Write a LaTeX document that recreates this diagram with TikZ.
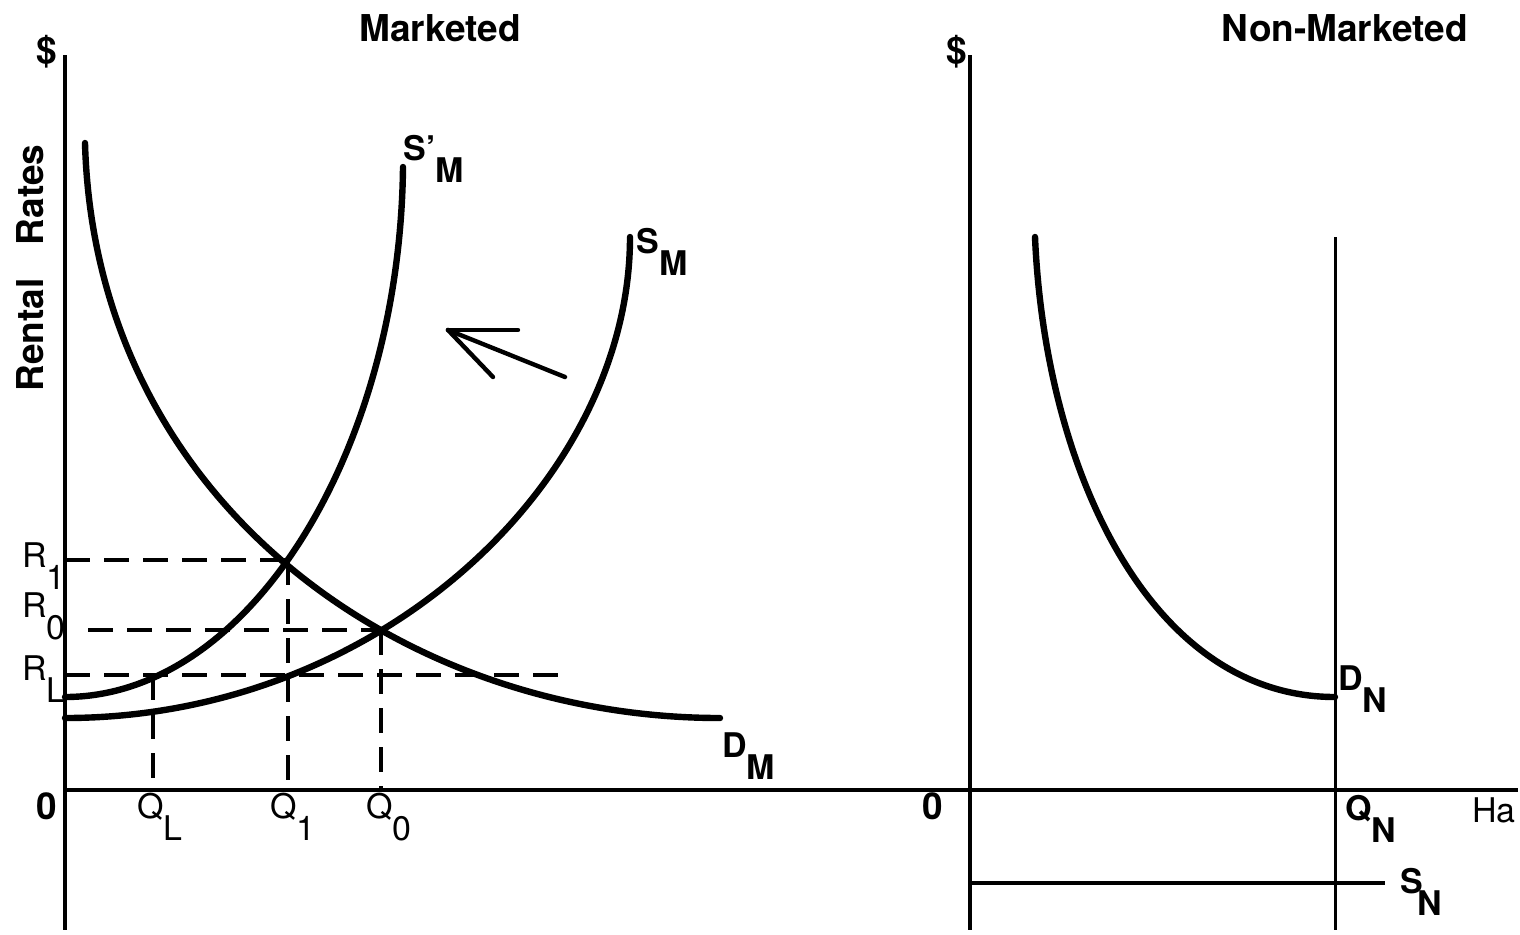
\documentclass[tikz,border=0pt]{standalone}
\usepackage{fontspec}
\setmainfont{TeX Gyre Heros}
\newcommand{\mysub}[2]{#1\raisebox{-11pt}{#2}}
\begin{document}
\begin{tikzpicture}[x=0.5pt,y=-0.5pt,
  axis/.style={line width=1.7pt},
  curve/.style={line width=3.2pt, line cap=round},
  guide/.style={line width=1.8pt, dash pattern=on 12.5pt off 7pt},
  arrowline/.style={line width=2.2pt, line cap=round},
  lab/.style={inner sep=0pt, anchor=base west, font=\fontsize{17}{19}\selectfont},
  blab/.style={inner sep=0pt, anchor=base west, font=\fontsize{17}{19}\selectfont\bfseries},
  title/.style={inner sep=0pt, font=\fontsize{18.5}{21}\selectfont\bfseries}]
\useasboundingbox (0,0) rectangle (1520,934);
% axes
\draw[axis] (65,55) -- (65,930);
\draw[axis] (65,790) -- (1518,790);
\draw[axis] (970,55) -- (970,930);
\draw[line width=1.5pt] (1335,237) -- (1335,930);
\draw[axis] (970,883) -- (1385,883);
% dashed guides
\draw[guide] (65,560) -- (288,560);
\draw[guide] (288,560) -- (288,790);
\draw[guide] (88,630) -- (383,630);
\draw[guide] (381,630) -- (381,790);
\draw[guide] (65,675) -- (565,675);
\draw[guide] (153,675) -- (153,790);
% curves
\draw[curve] (85,143) .. controls (95,500) and (400,718) .. (720,718);
\draw[curve] (65,718) .. controls (380,718) and (630,480) .. (630,237);
\draw[curve] (65,697) .. controls (250,697) and (400,450) .. (403,167);
\draw[curve] (1035,237) .. controls (1045,470) and (1150,697) .. (1335,697);
% shift arrow
\coordinate (tip) at (448,330);
\coordinate (tail) at (565,377);
\draw[arrowline] (tail) -- (tip);
\draw[arrowline] (tip) -- (518,330);
\draw[arrowline] (tip) -- (493,377);
% titles
\node[title] (tm) at (440,28) {Marketed};
\node[title] (tn) at (1345,28) {Non-Marketed};
\node[title] (d1) at (47,52) {\$};
\node[title] (d2) at (957,52) {\$};
\node[title, rotate=90] (rr) at (30,268) {Rental\hspace{0.9em}Rates};
% R labels
\node[lab] (r1) at (22,567) {\mysub{R}{1}};
\node[lab] (r0) at (22,617) {\mysub{R}{0}};
\node[lab] (rl) at (22,680) {\mysub{R}{L}};
% Q labels
\node[title] (o1) at (47,806) {0};
\node[lab] (ql) at (137,818) {\mysub{Q}{L}};
\node[lab] (q1) at (270,818) {\mysub{Q}{1}};
\node[lab] (q0) at (366,818) {\mysub{Q}{0}};
% curve labels
\node[blab] (smp) at (403,160) {\mysub{S'}{M}};
\node[blab] (sm) at (636,253) {\mysub{S}{M}};
\node[blab] (dm) at (722,757) {\mysub{D}{M}};
\node[blab] (dn) at (1338,690) {\mysub{D}{N}};
\node[blab] (qn) at (1345,820) {\mysub{Q}{N}};
\node[lab] (ha) at (1472,822) {Ha};
\node[blab] (sn) at (1400,893) {S\kern-3pt\raisebox{-11pt}{N}};
\node[title] (o2) at (933,806) {0};
\end{tikzpicture}
\end{document}
